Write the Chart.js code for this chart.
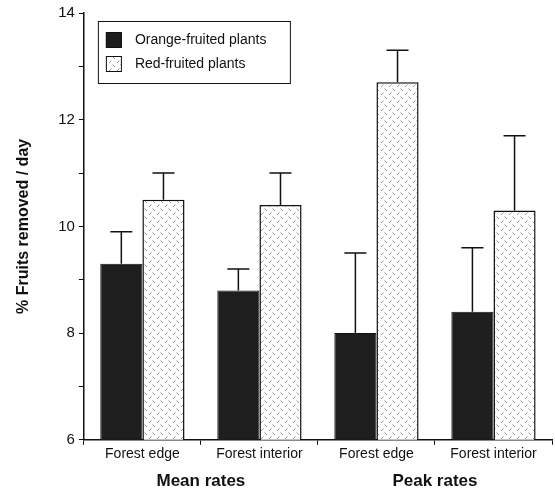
<!DOCTYPE html>
<html>
<head>
<meta charset="utf-8">
<script src="https://cdn.jsdelivr.net/npm/chart.js@4.4.1/dist/chart.umd.min.js"></script>
<style>
  body { margin: 0; background: #fff; }
  #wrap { width: 555px; height: 492px; }
</style>
</head>
<body>
<div id="wrap"><canvas id="c" width="555" height="492"></canvas></div>
<script>
// -------------------- DATA --------------------
const categories = ["Forest edge", "Forest interior", "Forest edge", "Forest interior"];
const groupLabels = ["Mean rates", "Peak rates"];
const orangeValues = [9.3, 8.8, 8.0, 8.4];
const orangeUpper = [9.9, 9.2, 9.5, 9.6];
const redValues = [10.5, 10.4, 12.7, 10.3];
const redUpper = [11.0, 11.0, 13.3, 11.7];

const FONT = "'Liberation Sans', Arial, sans-serif";

// -------------------- PATTERN --------------------
function makePattern() {
  const t = document.createElement("canvas");
  t.width = 8; t.height = 8;
  const g = t.getContext("2d");
  g.fillStyle = "#fff";
  g.fillRect(0, 0, 8, 8);
  g.strokeStyle = "#999";
  g.lineWidth = 1;
  g.beginPath();
  g.moveTo(0.5, 0.5); g.lineTo(3, 3);
  g.moveTo(7.5, 4.5); g.lineTo(5, 7);
  g.stroke();
  return g.createPattern(t, "repeat");
}
const ctx = document.getElementById("c").getContext("2d");
const redPattern = makePattern();

// -------------------- PLUGINS --------------------
const errorBars = {
  id: "errorBars",
  afterDatasetsDraw(chart) {
    const c = chart.ctx;
    const y = chart.scales.y;
    c.save();
    c.strokeStyle = "#111";
    c.lineWidth = 1.5;
    chart.data.datasets.forEach((ds, di) => {
      const meta = chart.getDatasetMeta(di);
      meta.data.forEach((el, i) => {
        const top = y.getPixelForValue(ds.upper[i]);
        c.beginPath();
        c.moveTo(el.x, el.y);
        c.lineTo(el.x, top);
        c.moveTo(el.x - 11, top);
        c.lineTo(el.x + 11, top);
        c.stroke();
      });
    });
    c.restore();
  }
};

const boxLegend = {
  id: "boxLegend",
  afterDraw(chart) {
    const c = chart.ctx;
    const a = chart.chartArea;
    const x0 = a.left + 14, y0 = a.top + 8;
    c.save();
    c.strokeStyle = "#111";
    c.lineWidth = 1;
    c.strokeRect(x0 + 0.5, y0 + 0.5, 192, 62);
    c.font = "14px " + FONT;
    c.textBaseline = "middle";
    chart.data.datasets.forEach((ds, i) => {
      const sy = y0 + 11 + i * 24;
      c.fillStyle = ds.backgroundColor;
      c.fillRect(x0 + 8, sy, 16, 16);
      c.strokeRect(x0 + 8.5, sy + 0.5, 15, 15);
      c.fillStyle = "#111";
      c.fillText(ds.label, x0 + 37, sy + 8);
    });
    c.restore();
  }
};

// -------------------- CHART --------------------
new Chart(ctx, {
  type: "bar",
  data: {
    labels: categories,
    datasets: [
      { label: "Orange-fruited plants", data: orangeValues, upper: orangeUpper,
        backgroundColor: "#1e1e1e", borderColor: "#111", borderWidth: 1 },
      { label: "Red-fruited plants", data: redValues, upper: redUpper,
        backgroundColor: redPattern, borderColor: "#111", borderWidth: 1.5 }
    ]
  },
  options: {
    responsive: false,
    animation: false,
    layout: { padding: { top: 4, right: 3, left: 10, bottom: 0 } },
    plugins: { legend: { display: false }, tooltip: { enabled: false } },
    datasets: { bar: { categoryPercentage: 0.72, barPercentage: 1.0 } },
    scales: {
      x: {
        offset: true,
        grid: { display: true, drawOnChartArea: false, offset: true, tickLength: 5, color: "#111" },
        border: { color: "#111", width: 1.5 },
        ticks: { color: "#111", font: { size: 14, family: FONT }, padding: 1 }
      },
      x2: {
        type: "category",
        labels: groupLabels,
        position: "bottom",
        offset: true,
        grid: { display: false },
        border: { display: false },
        ticks: { color: "#111", font: { size: 17, weight: "bold", family: FONT }, padding: 0 }
      },
      y: {
        min: 6,
        max: 14,
        grid: { display: true, drawOnChartArea: false, tickLength: 5, color: "#111" },
        border: { color: "#111", width: 1.5 },
        ticks: {
          stepSize: 1,
          color: "#111",
          padding: 4,
          font: { size: 15, family: FONT },
          callback: (v) => (v % 2 === 0 ? v : "")
        },
        title: {
          display: true,
          text: "% Fruits removed / day",
          color: "#111",
          font: { size: 16, weight: "bold", family: FONT },
          padding: { bottom: 21 }
        }
      }
    }
  },
  plugins: [errorBars, boxLegend]
});
</script>
</body>
</html>
